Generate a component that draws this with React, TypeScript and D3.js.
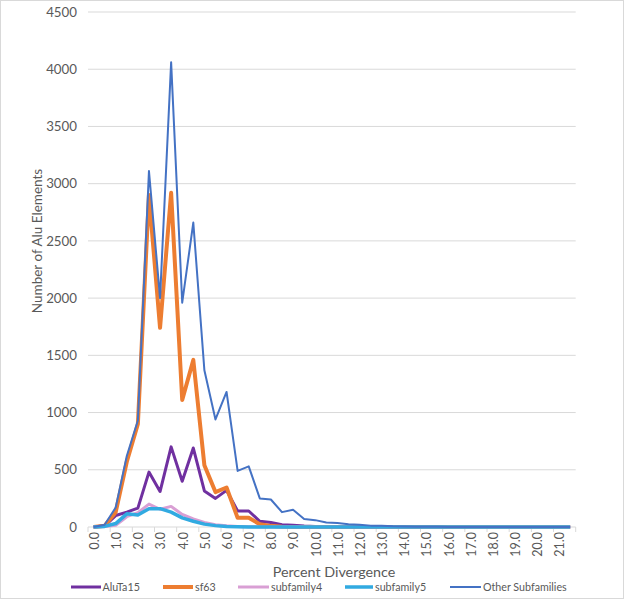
import React from "react";
import * as d3 from "d3";

const categories: string[] = Array.from({ length: 44 }, (_, i) => (i * 0.5).toFixed(1));
const seriesNames = ["AluTa15", "sf63", "subfamily4", "subfamily5", "Other Subfamilies"];

const aluTa15 = [0, 10, 100, 130, 165, 480, 310, 700, 400, 690, 315, 250, 320, 140, 140, 50, 40, 20, 15, 8, 5, 3, 2, 1, 1, 0, 0, 0, 0, 0, 0, 0, 0, 0, 0, 0, 0, 0, 0, 0, 0, 0, 0, 0];
const sf63 = [0, 10, 130, 570, 900, 2900, 1740, 2920, 1110, 1460, 540, 305, 345, 80, 80, 25, 10, 3, 1, 0, 0, 0, 0, 0, 0, 0, 0, 0, 0, 0, 0, 0, 0, 0, 0, 0, 0, 0, 0, 0, 0, 0, 0, 0];
const subfamily4 = [0, 5, 15, 90, 125, 200, 155, 180, 110, 70, 40, 20, 10, 5, 2, 1, 0, 0, 0, 0, 0, 0, 0, 0, 0, 0, 0, 0, 0, 0, 0, 0, 0, 0, 0, 0, 0, 0, 0, 0, 0, 0, 0, 0];
const subfamily5 = [0, 5, 30, 115, 105, 160, 160, 130, 80, 50, 25, 12, 5, 2, 1, 0, 0, 0, 0, 0, 0, 0, 0, 0, 0, 0, 0, 0, 0, 0, 0, 0, 0, 0, 0, 0, 0, 0, 0, 0, 0, 0, 0, 0];
const otherSubfamilies = [0, 20, 170, 620, 930, 3110, 2000, 4060, 1960, 2660, 1370, 940, 1180, 490, 530, 250, 240, 130, 150, 70, 60, 40, 35, 25, 20, 12, 12, 6, 4, 3, 2, 2, 1, 1, 1, 1, 1, 0, 0, 0, 0, 0, 0, 0];
const yTicks = [0, 500, 1000, 1500, 2000, 2500, 3000, 3500, 4000, 4500];

const seriesData = [aluTa15, sf63, subfamily4, subfamily5, otherSubfamilies];
const colors = ["#7030A0", "#ED7D31", "#D99FD4", "#31AAE1", "#4472C4"];
const widths = [3, 4, 3, 3.5, 2];

const FONT = "Lato, 'Open Sans', sans-serif";

export default function App() {
  const W = 625, H = 600;
  const left = 88, right = 575.7, top = 12, bottom = 527;
  const x = d3.scaleBand<string>().domain(categories).range([left, right]).paddingInner(0).paddingOuter(0);
  const bw = x.bandwidth();
  const cx = (c: string) => (x(c) as number) + bw / 2;
  const y = d3.scaleLinear().domain([0, 4500]).range([bottom, top]);
  const line = d3.line<number>().x((_, i) => cx(categories[i])).y((v) => y(v)).curve(d3.curveLinear);

  const tickBoundaries = categories.filter((_, i) => i % 2 === 0).map((c) => x(c) as number).concat([right]);

  const legendItems = [
    { x1: 71, x2: 101, tx: 102.5 },
    { x1: 163, x2: 193, tx: 195 },
    { x1: 238, x2: 269, tx: 271 },
    { x1: 345, x2: 373, tx: 375 },
    { x1: 450, x2: 481, tx: 483 },
  ];
  const ly = 587;

  return (
    <svg width={W} height={H} style={{ position: "absolute", left: 0, top: 0, background: "#fff" }} fontFamily={FONT}>
      <rect x={0.5} y={0.5} width={W - 2} height={H - 2} fill="#fff" stroke="#D9D9D9" />
      {yTicks.map((t) => (
        <g key={t}>
          {t !== 0 && <line x1={left} x2={right} y1={y(t)} y2={y(t)} stroke="#D9D9D9" strokeWidth={1} />}
          <text x={77} y={y(t)} dy="0.35em" textAnchor="end" fontSize={13.3} fill="#595959">{t}</text>
        </g>
      ))}
      <line x1={left} x2={right} y1={bottom} y2={bottom} stroke="#D9D9D9" strokeWidth={1} />
      {tickBoundaries.map((bx, i) => (
        <line key={i} x1={bx} x2={bx} y1={bottom} y2={bottom + 5} stroke="#D9D9D9" strokeWidth={1} />
      ))}
      {categories.map((c, i) =>
        i % 2 === 0 ? (
          <text key={c} transform={`translate(${cx(c) + 1},${532}) rotate(-90)`} textAnchor="end" dy="0.35em" fontSize={12.5} fill="#595959">
            {c}
          </text>
        ) : null
      )}
      <text transform={`translate(37,241) rotate(-90)`} textAnchor="middle" dy="0.35em" fontSize={13.5} fill="#595959">
        Number of Alu Elements
      </text>
      <text x={334} y={572} dy="0.35em" textAnchor="middle" fontSize={14.3} fill="#595959">
        Percent Divergence
      </text>
      {seriesData.map((s, k) => (
        <path key={k} d={line(s) || ""} fill="none" stroke={colors[k]} strokeWidth={widths[k]} strokeLinejoin="round" />
      ))}
      {legendItems.map((it, k) => (
        <g key={k}>
          <line x1={it.x1} x2={it.x2} y1={ly} y2={ly} stroke={colors[k]} strokeWidth={widths[k]} />
          <text x={it.tx} y={ly} dy="0.35em" fontSize={10.7} fill="#595959">{seriesNames[k]}</text>
        </g>
      ))}
    </svg>
  );
}
